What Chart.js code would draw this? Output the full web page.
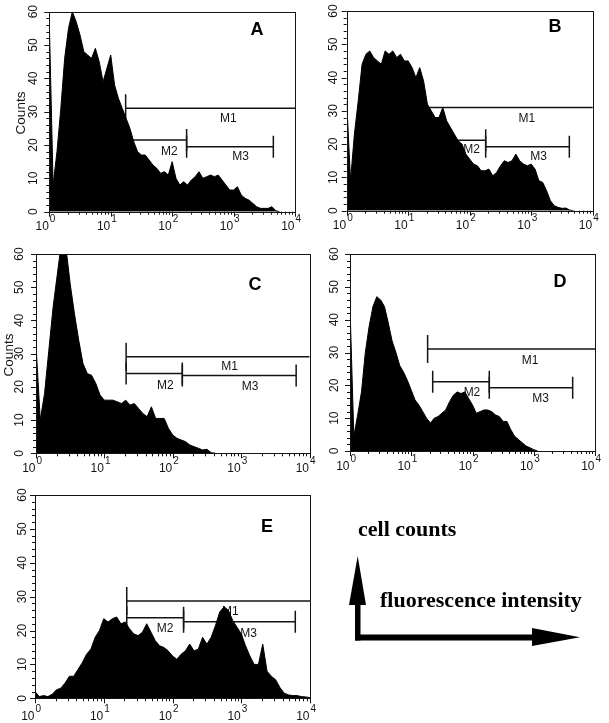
<!DOCTYPE html>
<html>
<head>
<meta charset="utf-8">
<script src="https://cdn.jsdelivr.net/npm/chart.js@4.4.1/dist/chart.umd.min.js"></script>
<style>
  html, body { margin: 0; padding: 0; background: #fff; }
  body { width: 609px; height: 723px; position: relative; overflow: hidden; }
  canvas, svg { position: absolute; left: 0; top: 0; }
</style>
</head>
<body>
<canvas id="panelA" width="609" height="723"></canvas>
<canvas id="panelB" width="609" height="723"></canvas>
<canvas id="panelC" width="609" height="723"></canvas>
<canvas id="panelD" width="609" height="723"></canvas>
<canvas id="panelE" width="609" height="723"></canvas>
<svg width="609" height="723" viewBox="0 0 609 723">
  <text x="358" y="536" font-family="'Liberation Serif','Times New Roman',serif" font-weight="bold" font-size="22">cell counts</text>
  <text x="380" y="607" font-family="'Liberation Serif','Times New Roman',serif" font-weight="bold" font-size="22">fluorescence intensity</text>
  <rect x="355" y="600" width="5.5" height="40.5" fill="#000"/>
  <polygon points="349,605 366,605 357.7,556" fill="#000"/>
  <rect x="355" y="634.5" width="180" height="6" fill="#000"/>
  <polygon points="532,628 532,646 580,637.3" fill="#000"/>
</svg>
<script>
// histogram channels: 16 bins per decade, 10^0 .. 10^4
const BINS_PER_DECADE = 16;

const countsA = [57, 8, 18, 31, 46, 55, 60, 57,
  53, 48, 47, 46, 49, 45, 39, 43,
  47, 38, 34, 31, 28, 25, 21, 18,
  17, 17, 15.5, 14, 13, 11.5, 12, 11,
  15, 10, 8, 9, 8, 9.5, 10.5, 12,
  10, 10.5, 11, 10.5, 11, 9.5, 8, 6.5,
  6.5, 7.5, 5, 4, 3.5, 2.5, 1.5, 1,
  1, 1, 1.5, 0.3, 0];

const countsB = [33, 9, 23, 33, 44, 47, 48, 46,
  45, 44, 48, 47, 48, 46, 47, 45,
  45, 43, 40, 43, 39, 32, 30, 28,
  28, 31, 27, 25, 23, 21, 20, 17,
  15.5, 14, 13.5, 12, 12, 12.5, 10.5, 11.5,
  13.5, 15, 14.5, 15, 17, 15, 14, 13.5,
  14, 12.5, 9, 8.5, 6, 3, 1.5, 1,
  0.7, 0.8, 0.2, 0];

const countsC = [32.6, 10, 18, 31, 44, 54, 64, 62,
  51, 42, 34, 27, 24, 23.5, 21, 17.5,
  16, 16, 16, 15.5, 15, 16, 14.5, 15,
  13.5, 12, 11, 14, 10.5, 10.5, 10.5, 7.5,
  5.5, 4.5, 4, 3.5, 2.5, 2, 1.5, 1,
  1.2, 0.2, 0];

const countsD = [44, 4.5, 11, 18, 30, 38, 44, 47,
  46, 44, 39, 33.5, 30, 26, 24, 21.5,
  18.5, 15.5, 14, 12, 10, 8.5, 10, 10.5,
  11.5, 12.5, 15, 17, 18, 17.5, 18, 16,
  14, 11.5, 12, 12.5, 12.5, 12, 11, 10.5,
  9, 9, 6.5, 4.5, 3.5, 2.5, 1.5, 1,
  0.4, 0];

const countsE = [2, 0.5, 0.8, 0.5, 1.2, 2.5, 3, 4.5,
  6.5, 6.5, 8.5, 10.5, 13, 14.5, 18, 20,
  23.5, 22.5, 23.5, 24, 22, 22.5, 20.5, 19,
  18.5, 19.5, 22, 19.5, 17, 15.5, 15, 14,
  12.5, 11.5, 13, 14, 16, 14, 14.5, 18,
  16, 18, 21.5, 25.5, 27, 26, 23, 21,
  19, 15.5, 12.5, 10, 10, 16, 8, 6.5,
  5.5, 3.2, 1.5, 1, 0.8, 0.8, 0.5, 0.4, 0.2];

// marker gates: name, from, to, level (counts)
const gatesA = [['M1', 17.5, 10000, 31], ['M2', 17.5, 172, 21.5], ['M3', 172, 4440, 19.5]];
const gatesB = [['M1', 17.5, 10000, 31], ['M2', 17.5, 182, 21.2], ['M3', 182, 4170, 19.2]];
const gatesC = [['M1', 20.8, 10000, 29.1], ['M2', 20.8, 138, 24], ['M3', 138, 6380, 23.4]];
const gatesD = [['M1', 18.5, 10000, 31.1], ['M2', 22.4, 188, 21.1], ['M3', 188, 4320, 19.3]];
const gatesE = [['M1', 21.6, 10000, 28.7], ['M2', 21.6, 145, 23.8], ['M3', 145, 6110, 22.6]];

const yTickValues = [0, 10, 20, 30, 40, 50, 60];
const xTickValues = [1, 10, 100, 1000, 10000];
const xTickExponents = ['0', '1', '2', '3', '4'];

const SANS = '"Liberation Sans", Arial, Helvetica, sans-serif';

const facsPlugin = {
  id: 'facs',
  beforeDatasetsDraw(chart, args, opts) {
    const { ctx, scales: { x, y } } = chart;
    ctx.save();
    ctx.strokeStyle = '#141414';
    ctx.fillStyle = '#141414';
    ctx.lineWidth = 1.5;
    ctx.font = '12px ' + SANS;
    ctx.textAlign = 'center';
    ctx.textBaseline = 'middle';
    opts.gates.forEach(([name, from, to, level]) => {
      const x0 = x.getPixelForValue(from);
      const x1 = x.getPixelForValue(to);
      const py = y.getPixelForValue(level);
      const half = name === 'M1' ? 14 : 11;
      ctx.beginPath();
      ctx.moveTo(x0, py); ctx.lineTo(x1, py);
      ctx.moveTo(x0, py - half); ctx.lineTo(x0, py + half);
      if (to < 10000) { ctx.moveTo(x1, py - half); ctx.lineTo(x1, py + half); }
      ctx.stroke();
      const pos = opts.labelPos[name];
      ctx.fillText(name, x.getPixelForValue(pos[0]), y.getPixelForValue(pos[1]));
    });
    ctx.restore();
  },
  afterDatasetsDraw(chart, args, opts) {
    const { ctx, chartArea: a, scales: { x, y } } = chart;
    ctx.save();
    ctx.strokeStyle = '#141414';
    ctx.fillStyle = '#141414';
    ctx.lineWidth = 1;
    ctx.strokeRect(Math.round(a.left) + 0.5, Math.round(a.top) + 0.5,
      Math.round(a.right - a.left), Math.round(a.bottom - a.top));

    ctx.beginPath();
    for (let v = 0; v <= 60; v += 2) {
      const py = Math.round(y.getPixelForValue(v)) + 0.5;
      ctx.moveTo(a.left, py);
      ctx.lineTo(a.left - (v % 10 === 0 ? 5 : 3), py);
    }
    for (let dec = 1; dec < 10000; dec *= 10) {
      for (let m = 1; m <= 9; m++) {
        const px = Math.round(x.getPixelForValue(dec * m)) + 0.5;
        ctx.moveTo(px, a.bottom);
        ctx.lineTo(px, a.bottom + (m === 1 ? 5 : 3));
      }
    }
    const pEnd = Math.round(x.getPixelForValue(10000)) + 0.5;
    ctx.moveTo(pEnd, a.bottom); ctx.lineTo(pEnd, a.bottom + 5);
    ctx.stroke();

    // rotated y tick labels
    ctx.font = '12px ' + SANS;
    ctx.textAlign = 'center';
    ctx.textBaseline = 'middle';
    yTickValues.forEach(v => {
      ctx.save();
      ctx.translate(a.left - opts.yLabelGap, y.getPixelForValue(v));
      ctx.rotate(-Math.PI / 2);
      ctx.fillText(String(v), 0, 0);
      ctx.restore();
    });

    // x tick labels as 10 with superscript exponent
    ctx.textBaseline = 'alphabetic';
    xTickValues.forEach((v, i) => {
      const px = x.getPixelForValue(v);
      const base = a.bottom + opts.xLabelGap;
      ctx.font = '12px ' + SANS;
      ctx.textAlign = 'right';
      ctx.fillText('10', px - 0.5, base);
      ctx.font = '10px ' + SANS;
      ctx.textAlign = 'left';
      ctx.fillText(xTickExponents[i], px + 0.5, base - 8);
    });

    if (opts.axisTitle) {
      ctx.save();
      ctx.font = '13.5px ' + SANS;
      ctx.textAlign = 'center';
      ctx.textBaseline = 'middle';
      ctx.translate(opts.axisTitle[0], opts.axisTitle[1]);
      ctx.rotate(-Math.PI / 2);
      ctx.fillText('Counts', 0, 0);
      ctx.restore();
    }

    ctx.font = 'bold 18px ' + SANS;
    ctx.textAlign = 'center';
    ctx.textBaseline = 'middle';
    ctx.fillStyle = '#000';
    ctx.fillText(opts.letter, opts.letterAt[0], opts.letterAt[1]);
    ctx.restore();
  }
};

function toPoints(counts) {
  return counts.map((c, i) => ({ x: Math.pow(10, i / BINS_PER_DECADE), y: c }));
}

function renderPanel(id, counts, gates, box, extra) {
  const canvas = document.getElementById(id);
  const ctx = canvas.getContext('2d');
  return new Chart(ctx, {
    type: 'line',
    data: {
      datasets: [{
        data: toPoints(counts),
        borderColor: '#000',
        backgroundColor: '#000',
        borderWidth: 1,
        pointRadius: 0,
        tension: 0,
        fill: 'origin',
        clip: 0
      }]
    },
    options: {
      responsive: false,
      animation: false,
      events: [],
      layout: {
        padding: { left: box[0], top: box[1], right: 609 - box[2], bottom: 723 - box[3] }
      },
      plugins: {
        legend: { display: false },
        tooltip: { enabled: false },
        facs: Object.assign({ gates }, extra)
      },
      scales: {
        x: { type: 'logarithmic', min: 1, max: 10000, display: false },
        y: { type: 'linear', min: 0, max: 60, display: false }
      }
    },
    plugins: [facsPlugin]
  });
}

renderPanel('panelA', countsA, gatesA, [49.3, 11.7, 295, 211.7], {
  letter: 'A', letterAt: [257, 30], yLabelGap: 16, xLabelGap: 18.5, axisTitle: [21, 113],
  labelPos: { M1: [820, 28], M2: [90, 18], M3: [1303, 16.5] }
});
renderPanel('panelB', countsB, gatesB, [346.7, 11, 592.7, 210.7], {
  letter: 'B', letterAt: [555, 27], yLabelGap: 13.5, xLabelGap: 18.5,
  labelPos: { M1: [851, 27.5], M2: [107, 18.2], M3: [1318, 16.2] }
});
renderPanel('panelC', countsC, gatesC, [36, 254, 309.5, 453.3], {
  letter: 'C', letterAt: [255, 285], yLabelGap: 16, xLabelGap: 18.5, axisTitle: [9, 355],
  labelPos: { M1: [676, 26], M2: [78, 20.5], M3: [1349, 20] }
});
renderPanel('panelD', countsD, gatesD, [350, 254, 595, 451], {
  letter: 'D', letterAt: [560, 282], yLabelGap: 15, xLabelGap: 19,
  labelPos: { M1: [871, 27.4], M2: [98, 17.8], M3: [1288, 15.9] }
});
renderPanel('panelE', countsE, gatesE, [35, 495, 310, 698.3], {
  letter: 'E', letterAt: [267, 527], yLabelGap: 12, xLabelGap: 21.5,
  labelPos: { M1: [692, 25.6], M2: [78, 20.4], M3: [1279, 19.2] }
});
</script>
</body>
</html>
